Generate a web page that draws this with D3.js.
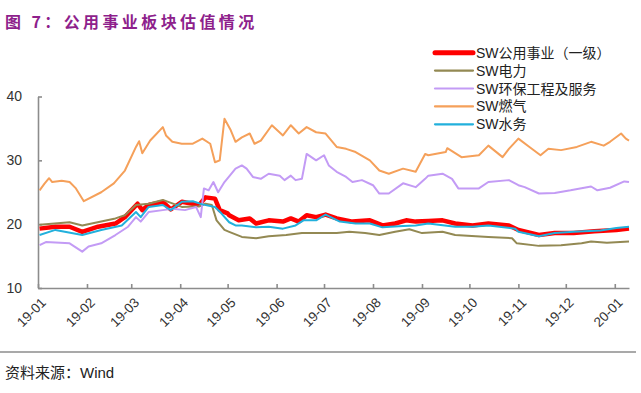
<!DOCTYPE html>
<html>
<head>
<meta charset="utf-8">
<script src="https://cdn.jsdelivr.net/npm/d3@7"></script>
<style>
  body { margin: 0; background: #fff; }
  svg { display: block; font-family: "Liberation Sans", Arial, sans-serif; }
</style>
</head>
<body>
<svg id="chart" width="641" height="393"></svg>
<script>
const width = 641, height = 393;
const plot = {left: 38, right: 629, top: 96.5, bottom: 288};

const seriesNames = ['SW公用事业（一级）', 'SW电力', 'SW环保工程及服务', 'SW燃气', 'SW水务'];
const seriesColors = ['#ff0000', '#938953', '#c39bf5', '#f5a05a', '#22b0dc'];
const seriesWidths = [4.5, 2, 2, 2, 2];

const yTicks = [10, 20, 30, 40];

const utilities = [
  ['19-01-02',19.3],['19-01-12',19.6],['19-01-21',19.6],['19-01-29',18.8],['19-02-08',19.6],
  ['19-02-19',20.1],['19-02-25',21.1],['19-03-05',23.2],['19-03-08',22.2],['19-03-12',23.0],
  ['19-03-21',23.5],['19-03-26',22.3],['19-04-02',23.5],['19-04-13',23.0],['19-04-17',24.2],
  ['19-04-23',24.0],['19-04-26',22.2],['19-05-01',21.7],['19-05-02',21.4],['19-05-08',20.6],
  ['19-05-15',20.9],['19-05-19',20.1],['19-05-27',20.6],['19-06-05',20.4],['19-06-10',20.9],
  ['19-06-15',20.4],['19-06-20',21.4],['19-06-26',21.1],['19-07-02',21.5],['19-07-09',20.9],
  ['19-07-19',20.4],['19-07-30',20.6],['19-08-07',19.8],['19-08-15',20.1],['19-08-22',20.6],
  ['19-08-28',20.4],['19-09-05',20.5],['19-09-14',20.6],['19-09-22',20.1],['19-10-03',19.8],
  ['19-10-13',20.1],['19-10-26',19.8],['19-11-01',19.1],['19-11-14',18.3],['19-11-24',18.6],
  ['19-12-06',18.6],['19-12-19',18.9],['20-01-02',19.1],['20-01-10',19.3]
];

const power = [
  ['19-01-02',19.9],['19-01-21',20.3],['19-01-29',19.8],['19-02-19',20.9],['19-02-25',21.4],
  ['19-03-04',23.0],['19-03-12',23.2],['19-03-21',23.8],['19-04-02',22.7],['19-04-13',22.8],
  ['19-04-17',23.2],['19-04-21',23.0],['19-04-24',20.6],['19-04-29',19.1],['19-05-02',18.8],
  ['19-05-10',18.0],['19-05-19',17.8],['19-05-27',18.1],['19-06-07',18.3],['19-06-17',18.6],
  ['19-06-28',18.6],['19-07-09',18.6],['19-07-17',18.8],['19-07-27',18.6],['19-08-05',18.3],
  ['19-08-15',18.8],['19-08-24',19.2],['19-09-01',18.6],['19-09-14',18.8],['19-09-22',18.3],
  ['19-10-13',18.0],['19-10-28',17.8],['19-10-31',17.0],['19-11-14',16.6],['19-11-28',16.7],
  ['19-12-11',17.0],['19-12-17',17.3],['19-12-27',17.1],['20-01-10',17.3]
];

const environment = [
  ['19-01-02',16.7],['19-01-06',17.2],['19-01-21',17.0],['19-01-29',15.7],['19-02-02',16.5],
  ['19-02-10',17.0],['19-02-19',18.3],['19-02-27',19.6],['19-03-04',21.1],['19-03-07',20.4],
  ['19-03-12',21.9],['19-03-21',22.2],['19-03-27',22.4],['19-04-04',22.2],['19-04-11',22.7],
  ['19-04-14',21.1],['19-04-16',25.6],['19-04-19',25.3],['19-04-22',26.6],['19-04-25',25.0],
  ['19-04-29',26.6],['19-05-02',27.5],['19-05-06',28.7],['19-05-10',29.2],['19-05-13',28.7],
  ['19-05-17',27.4],['19-05-22',27.1],['19-05-27',27.9],['19-06-03',27.6],['19-06-06',26.9],
  ['19-06-10',27.6],['19-06-13',26.9],['19-06-17',27.1],['19-06-20',31.0],['19-06-26',30.0],
  ['19-07-01',30.8],['19-07-04',29.2],['19-07-09',28.2],['19-07-15',27.4],['19-07-19',26.6],
  ['19-07-25',26.9],['19-08-01',26.1],['19-08-05',24.8],['19-08-11',24.8],['19-08-20',26.4],
  ['19-08-28',25.8],['19-09-03',27.1],['19-09-05',27.6],['19-09-14',27.9],['19-09-20',27.1],
  ['19-09-24',25.6],['19-10-07',25.6],['19-10-13',26.6],['19-10-26',26.9],['19-11-01',26.1],
  ['19-11-05',25.8],['19-11-14',24.8],['19-11-24',24.9],['19-12-04',25.3],['19-12-17',25.9],
  ['19-12-21',25.3],['19-12-29',25.7],['20-01-07',26.7],['20-01-10',26.6]
];

const gas = [
  ['19-01-02',25.3],['19-01-05',26.3],['19-01-08',27.2],['19-01-10',26.6],['19-01-16',26.8],
  ['19-01-21',26.6],['19-01-25',25.6],['19-01-30',23.6],['19-02-10',25.0],['19-02-18',26.4],
  ['19-02-25',28.4],['19-03-04',32.1],['19-03-06',33.0],['19-03-08',31.1],['19-03-13',33.1],
  ['19-03-21',35.2],['19-03-23',33.9],['19-03-27',32.9],['19-04-02',32.6],['19-04-09',32.6],
  ['19-04-15',33.4],['19-04-20',32.6],['19-04-23',29.7],['19-04-26',30.0],['19-04-29',36.5],
  ['19-05-03',34.7],['19-05-06',32.9],['19-05-10',33.6],['19-05-15',34.2],['19-05-18',32.6],
  ['19-05-22',33.1],['19-05-29',35.5],['19-06-05',33.9],['19-06-10',35.5],['19-06-15',34.2],
  ['19-06-20',35.2],['19-06-26',34.4],['19-07-02',34.2],['19-07-09',32.1],['19-07-15',31.8],
  ['19-07-21',31.3],['19-07-30',30.0],['19-08-05',28.4],['19-08-11',27.9],['19-08-20',28.7],
  ['19-08-28',28.2],['19-09-03',31.0],['19-09-05',30.8],['19-09-16',31.3],['19-09-17',31.9],
  ['19-09-26',30.5],['19-10-07',30.8],['19-10-13',32.3],['19-10-22',30.5],['19-10-26',31.8],
  ['19-11-01',33.4],['19-11-08',32.1],['19-11-15',30.8],['19-11-20',31.8],['19-11-28',31.6],
  ['19-12-08',32.1],['19-12-17',32.9],['19-12-25',32.3],['19-12-29',32.9],['20-01-05',34.2],
  ['20-01-08',33.4],['20-01-10',33.1]
];

const water = [
  ['19-01-02',18.3],['19-01-12',19.1],['19-01-29',18.3],['19-02-10',19.1],['19-02-23',19.8],
  ['19-03-04',21.9],['19-03-07',21.1],['19-03-12',22.7],['19-03-21',23.0],['19-03-26',22.2],
  ['19-04-02',23.5],['19-04-09',23.6],['19-04-15',23.1],['19-04-23',22.7],['19-04-27',21.7],
  ['19-05-02',20.3],['19-05-06',19.8],['19-05-10',19.8],['19-05-19',19.5],['19-05-27',19.6],
  ['19-06-05',19.3],['19-06-13',19.8],['19-06-18',20.6],['19-06-26',20.6],['19-07-02',21.5],
  ['19-07-11',20.4],['19-07-21',20.1],['19-07-30',20.1],['19-08-07',19.5],['19-08-20',19.7],
  ['19-08-28',19.8],['19-09-05',20.1],['19-09-22',19.6],['19-10-03',19.6],['19-10-13',19.8],
  ['19-10-30',19.3],['19-11-01',18.8],['19-11-14',18.1],['19-11-24',18.6],['19-12-06',18.8],
  ['19-12-23',19.0],['20-01-02',19.4],['20-01-10',19.6]
];

const allSeries = [utilities, power, environment, gas, water];
const parseDate = d3.timeParse('%y-%m-%d');

const svg = d3.select('#chart');

// title
svg.append('text')
    .attr('x', 5).attr('y', 28)
    .attr('font-family', '"Noto Sans CJK SC", sans-serif')
    .attr('font-weight', 'bold')
    .attr('font-size', '16px')
    .attr('letter-spacing', '3.4px')
    .attr('fill', '#8e1f8c')
    .text('图 7：公用事业板块估值情况');

const x = d3.scaleTime()
    .domain([parseDate('19-01-01'), parseDate('20-01-10')])
    .range([plot.left, plot.right]);

const y = d3.scaleLinear()
    .domain([10, 40])
    .range([plot.bottom, plot.top]);

// y axis
const yAxis = svg.append('g')
    .attr('transform', `translate(${plot.left},0)`)
    .call(d3.axisLeft(y).tickValues(yTicks).tickSize(-4).tickSizeOuter(0).tickPadding(16));

// x axis
const xAxis = svg.append('g')
    .attr('transform', `translate(0,${plot.bottom})`)
    .call(d3.axisBottom(x)
        .ticks(d3.timeMonth.every(1))
        .tickFormat(d3.timeFormat('%y-%m'))
        .tickSize(-4).tickSizeOuter(0));

[yAxis, xAxis].forEach(a => {
    a.select('.domain').attr('stroke', '#8c8c8c').attr('stroke-width', 1.6);
    a.selectAll('.tick line').attr('stroke', '#8c8c8c').attr('stroke-width', 1.6);
    a.selectAll('.tick text')
        .attr('fill', '#333')
        .attr('font-size', '14px')
        .attr('font-family', '"Liberation Sans", Arial, sans-serif');
});

xAxis.selectAll('.tick text')
    .attr('font-size', '13.5px')
    .attr('text-anchor', 'end')
    .attr('x', 0).attr('y', 0).attr('dy', '0.35em')
    .attr('transform', 'translate(5,12) rotate(-45)');

// lines
const line = d3.line()
    .x(d => x(parseDate(d[0])))
    .y(d => y(d[1]));

svg.append('g')
    .selectAll('path')
    .data(allSeries)
    .join('path')
    .attr('fill', 'none')
    .attr('stroke', (d, i) => seriesColors[i])
    .attr('stroke-width', (d, i) => seriesWidths[i])
    .attr('stroke-linejoin', 'round')
    .attr('d', line);

// legend
const legend = svg.append('g')
    .selectAll('g')
    .data(seriesNames)
    .join('g')
    .attr('transform', (d, i) => `translate(435,${52.7 + i * 17.9})`);

legend.append('line')
    .attr('x1', 0).attr('x2', 38)
    .attr('stroke', (d, i) => seriesColors[i])
    .attr('stroke-width', (d, i) => i === 0 ? 5 : 2.2)
    .attr('stroke-linecap', 'round');

legend.append('text')
    .attr('x', 41).attr('dy', '0.36em')
    .attr('font-size', '14px')
    .attr('font-family', '"Liberation Sans", "Noto Sans CJK SC", sans-serif')
    .attr('fill', '#222')
    .text(d => d);

// footer
svg.append('line')
    .attr('x1', 0).attr('x2', 636)
    .attr('y1', 352).attr('y2', 352)
    .attr('stroke', '#8c8c8c').attr('stroke-width', 1.5);

svg.append('text')
    .attr('x', 5).attr('y', 378)
    .attr('font-size', '15px')
    .attr('font-family', '"Liberation Sans", "Noto Sans CJK SC", sans-serif')
    .attr('fill', '#222')
    .text('资料来源：Wind');
</script>
</body>
</html>
